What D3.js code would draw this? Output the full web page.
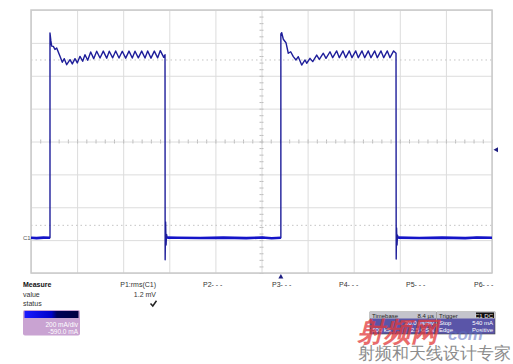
<!DOCTYPE html>
<html><head><meta charset="utf-8">
<script src="https://cdn.jsdelivr.net/npm/d3@7"></script>
<style>body{margin:0;background:#fff}svg{display:block}text{font-family:"Liberation Sans",Arial,sans-serif}</style>
</head><body><svg id="c" width="513" height="364"></svg>
<script>
// ---- data (time in µs, current in mA) ----
const gridTimes = [-108.4,-88.4,-68.4,-48.4,-28.4,-8.4,11.6,31.6,51.6,71.6,91.6];
const gridCurrents = [-210,-10,190,390,590,790,990,1190,1390];
const refLevels = [1086, 80];
const triggerLevel = 540;
const triggerTime = 0;
const low0 = [[-108.4,4],[-106,2],[-103,5],[-100.16,4]];
const pulse1 = [[-100.16,4],[-100.16,1250],[-99.8,1205],[-99.42,1170],[-98.72,1169],[-98.0,1150],[-97.26,1159],[-95.82,1108],[-94.82,1072],[-93.96,1094],[-92.92,1057],[-91.48,1088],[-90.48,1062],[-89.32,1094],[-88.32,1068],[-87.14,1108],[-85.98,1078],[-84.98,1118],[-83.8,1084],[-82.5,1135],[-81.2,1094],[-79.9,1139],[-78.46,1098],[-77.04,1140],[-75.56,1097],[-74.44,1139],[-72.96,1099],[-71.66,1141],[-70.22,1098],[-68.8,1139],[-67.32,1097],[-65.88,1140],[-64.46,1098],[-63.28,1139],[-61.84,1099],[-60.38,1140],[-58.94,1098],[-57.78,1141],[-56.34,1097],[-54.9,1140],[-53.44,1099],[-52.3,1143],[-50.82,1102],[-50.26,1118]];
const spike1 = [[-50.2,-130],[-50.0,100],[-49.8,-40],[-49.6,25],[-49.3,5]];
const low1 = [[-49.3,5],[-45,4],[-35,3],[-25,5],[-15,2],[-8,6],[-4,1],[0,4]];
const pulse2 = [[0,4],[0,1245],[0.36,1252],[1.06,1212],[2.22,1191],[3.22,1127],[4.26,1136],[5.4,1106],[6.56,1086],[7.56,1106],[9.04,1055],[10.48,1086],[11.2,1066],[12.64,1096],[13.82,1076],[15.54,1116],[16.68,1090],[18.42,1127],[19.58,1096],[21.32,1136],[22.48,1100],[24.22,1141],[25.36,1100],[26.96,1141],[28.14,1100],[29.7,1141],[30.86,1100],[32.48,1141],[33.6,1100],[35.2,1141],[36.38,1100],[37.94,1141],[39.1,1100],[40.72,1141],[41.84,1100],[43.44,1141],[44.62,1100],[46.18,1141],[47.34,1100],[48.92,1141],[49.96,1127]];
const spike2 = [[50.04,-125],[50.2,64],[50.4,-40],[50.6,20],[50.9,5]];
const low2 = [[50.9,5],[60,3],[70,5],[80,2],[85,6],[91.6,4]];
const measureLabels = ["P1:rms(C1)","P2- - -","P3- - -","P4- - -","P5- - -","P6- - -"];
const measureValue = "1.2 mV";
const channelInfo = ["200 mA/div","-590.0 mA"];

// ---- layout ----
const svg = d3.select("#c");
const L=31,R=492,T=10,B=273;
const x = d3.scaleLinear().domain([-108.4,91.6]).range([L,R]);
const y = d3.scaleLinear().domain([-210,1390]).range([B,T]);
svg.append("rect").attr("width",513).attr("height",364).attr("fill","#fff");

// grid via axes
const gx = svg.append("g").attr("transform",`translate(0,${B})`)
  .call(d3.axisBottom(x).tickValues(gridTimes).tickSize(-(B-T)).tickFormat(""));
const gy = svg.append("g").attr("transform",`translate(${L},0)`)
  .call(d3.axisLeft(y).tickValues(gridCurrents).tickSize(-(R-L)).tickFormat(""));
[gx,gy].forEach(g=>{g.select(".domain").remove();g.selectAll("line").attr("stroke","#dcdcdc").attr("stroke-width",1);});

// center minor ticks
const cy = y(590), cx = x(-8.4);
const minorT = d3.range(-108.4,91.7,4);
const minorC = d3.range(-210,1391,40);
[d3.axisTop, d3.axisBottom].forEach(a=>{
  const g=svg.append("g").attr("transform",`translate(0,${cy})`).call(a(x).tickValues(minorT).tickSize(2).tickFormat(""));
  g.select(".domain").remove(); g.selectAll("line").attr("stroke","#bdbdbd");
});
[d3.axisLeft, d3.axisRight].forEach(a=>{
  const g=svg.append("g").attr("transform",`translate(${cx},0)`).call(a(y).tickValues(minorC).tickSize(2).tickFormat(""));
  g.select(".domain").remove(); g.selectAll("line").attr("stroke","#bdbdbd");
});

// reference dotted levels
svg.selectAll("line.ref").data(refLevels).join("line").attr("class","ref")
  .attr("x1",L).attr("x2",R).attr("y1",d=>y(d)).attr("y2",d=>y(d))
  .attr("stroke","#c4c4c4").attr("stroke-dasharray","1.5,3");

// frame
svg.append("rect").attr("x",L).attr("y",T).attr("width",R-L).attr("height",B-T)
  .attr("fill","none").attr("stroke","#cacaca").attr("stroke-width",1.5);

// trace
const line = d3.line().x(d=>x(d[0])).y(d=>y(d[1]));
const trace = [].concat(low0,pulse1,spike1,low1,pulse2,spike2,low2);
svg.append("path").attr("d",line(trace)).attr("fill","none")
  .attr("stroke","#1e1e9a").attr("stroke-width",1.4).attr("stroke-linejoin","round");
[low0,low1,low2].forEach(s=>svg.append("path").attr("d",line(s)).attr("fill","none")
  .attr("stroke","#1414c8").attr("stroke-width",2.6));

// markers
svg.append("path").attr("d",`M${x(triggerTime)},${B+1} l-2.5,4.5 h5 z`).attr("fill","#1c1c80");
svg.append("path").attr("d",`M${R+1.5},${y(triggerLevel)} l4.5,-2.5 v5 z`).attr("fill","#1c1c80");
svg.append("text").attr("x",23).attr("y",y(0)+2).attr("font-size",6).attr("fill","#555").text("C1");

// measure table
const tx = svg.append("g").attr("font-size",7).attr("fill","#333");
tx.append("text").attr("x",23).attr("y",287).attr("font-weight","bold").attr("fill","#111").text("Measure");
tx.append("text").attr("x",23).attr("y",296.5).text("value");
tx.append("text").attr("x",23).attr("y",306).text("status");
const colX=[156,203,272,339,406,474];
measureLabels.forEach((m,i)=>tx.append("text").attr("x",colX[i]).attr("y",287)
  .attr("text-anchor",i===0?"end":"start").text(m));
tx.append("text").attr("x",156).attr("y",296.5).attr("text-anchor","end").text(measureValue);
svg.append("path").attr("d","M150.5,303.5 L152.8,306 L156.5,300.8").attr("fill","none").attr("stroke","#222").attr("stroke-width",1.5);

// channel box
const defs=svg.append("defs");
const gr=defs.append("linearGradient").attr("id","cg");
gr.append("stop").attr("offset","0").attr("stop-color","#1a1aff");
gr.append("stop").attr("offset","0.5").attr("stop-color","#0000c8");
gr.append("stop").attr("offset","0.6").attr("stop-color","#000058");
gr.append("stop").attr("offset","1").attr("stop-color","#000040");
svg.append("rect").attr("x",23).attr("y",310).attr("width",57).attr("height",25.5).attr("rx",2).attr("fill","#c9a3d2");
svg.append("rect").attr("x",24.5).attr("y",311).attr("width",54).attr("height",7).attr("fill","url(#cg)");
channelInfo.forEach((t,i)=>svg.append("text").attr("x",78).attr("y",326.5+i*7).attr("text-anchor","end")
  .attr("font-size",6.5).attr("fill","#fff").text(t));

// timebase / trigger boxes
const boxes=[{x:370,w:66,h1:"Timebase",h2:"8.4 µs",r:[["","20.0 µs/div"],["500 kS","2.5 GS/s"]]},
             {x:437,w:58,h1:"Trigger",h2:"C1 DC",r:[["Stop","540 mA"],["Edge","Positive"]]}];
boxes.forEach(b=>{
  svg.append("rect").attr("x",b.x).attr("y",312).attr("width",b.w).attr("height",22).attr("fill","#5a55a8").attr("stroke","#444").attr("stroke-width",0.6);
  svg.append("rect").attr("x",b.x).attr("y",312).attr("width",b.w).attr("height",6.5).attr("fill","#c4c4cc");
  svg.append("text").attr("x",b.x+2).attr("y",317.5).attr("font-size",6).attr("fill","#222").text(b.h1);
  if(b.h1==="Trigger"){svg.append("rect").attr("x",b.x+b.w-19).attr("y",312.5).attr("width",18).attr("height",5.5).attr("fill","#111");}
  svg.append("text").attr("x",b.x+b.w-2).attr("y",317.5).attr("font-size",6).attr("text-anchor","end")
    .attr("fill",b.h1==="Trigger"?"#eee":"#222").text(b.h2);
  b.r.forEach((rw,i)=>{
    svg.append("text").attr("x",b.x+2).attr("y",325+i*7).attr("font-size",6).attr("fill","#fff").text(rw[0]);
    svg.append("text").attr("x",b.x+b.w-2).attr("y",325+i*7).attr("font-size",6).attr("text-anchor","end").attr("fill","#fff").text(rw[1]);
  });
});

// watermark
svg.append("text").attr("x",357).attr("y",341).attr("font-size",27).attr("font-weight","bold").attr("font-style","italic")
  .attr("font-family","Noto Sans CJK SC").attr("fill","#e23a3a").attr("opacity",0.75).text("射频网");
svg.append("text").attr("x",448).attr("y",340).attr("font-size",17).attr("font-weight","bold").attr("font-style","italic")
  .attr("fill","#5a6cc0").attr("opacity",0.55).text("com");
svg.append("text").attr("x",358).attr("y",359).attr("font-size",16.8).attr("font-family","Noto Sans CJK SC")
  .attr("fill","#8c8c8c").text("射频和天线设计专家");
</script></body></html>
